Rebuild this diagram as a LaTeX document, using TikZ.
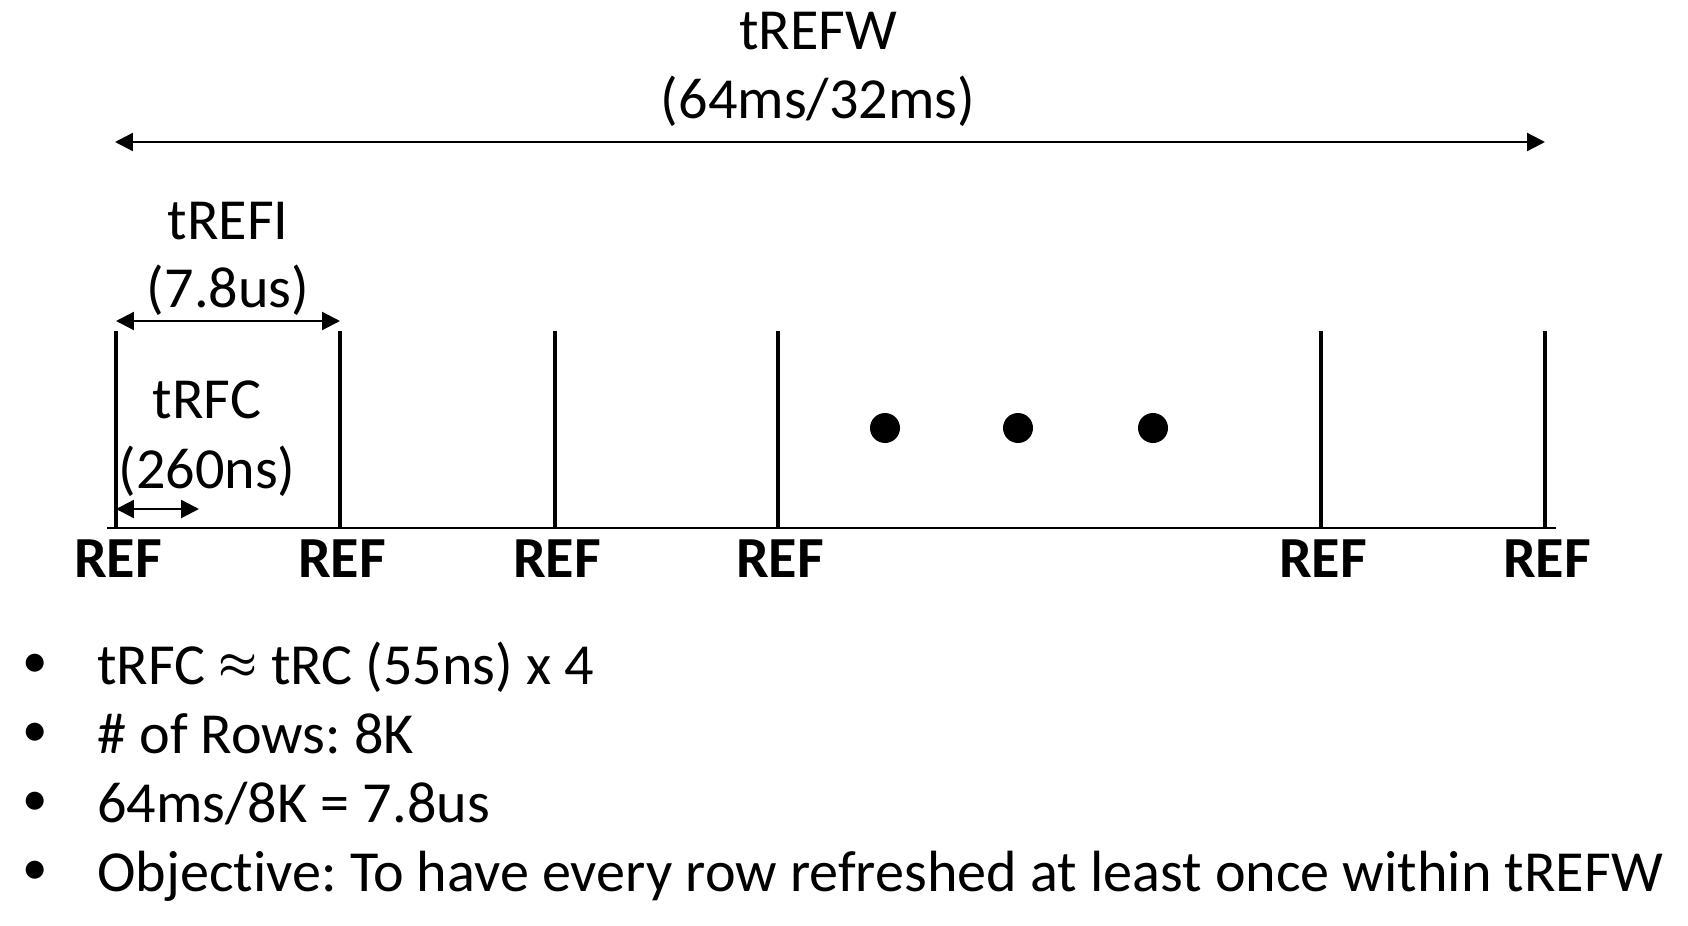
\documentclass[tikz,border=0pt]{standalone}
\usepackage{fontspec}
\setmainfont[Ligatures={NoCommon,NoRequired,NoContextual}]{Carlito}
\usetikzlibrary{arrows.meta,positioning}

\tikzset{
  lbl/.style={inner sep=0pt, anchor=base, font=\fontsize{33.1}{40}\selectfont},
  reflbl/.style={lbl, font=\fontsize{33.1}{40}\selectfont\bfseries},
  item/.style={lbl, anchor=base west},
  dotlbl/.style={lbl, font=\fontsize{29}{40}\selectfont},
  tick/.style={line width=2.3pt},
  axis/.style={line width=1.6pt},
  span/.style={line width=1.3pt, {Triangle[length=0.36cm,width=0.36cm]}-{Triangle[length=0.36cm,width=0.36cm]}},
}

\begin{document}
\frenchspacing
\begin{tikzpicture}[x=0.02cm, y=-0.02cm]
\useasboundingbox (0,0) rectangle (1688,926);

% time axis
\coordinate (ax0) at (107,528);
\coordinate (ax1) at (1556,528);
\draw[axis] (ax0) -- (ax1);

% refresh commands
\foreach \n/\x in {r1/116, r2/340, r3/555, r4/778, r5/1321, r6/1545} {
  \coordinate (\n top) at (\x,331);
  \coordinate (\n) at (\x,528);
  \draw[tick] (\n top) -- (\n);
  \node[reflbl] (\n lbl) at (\x+2,577) {REF};
}

% ...
\foreach \n/\x in {d1/885, d2/1018, d3/1153}
  \fill (\x,428) circle (15) coordinate (\n);

% tREFW
\node[lbl] (trefw) at (818,50) {tREFW};
\node[lbl] (trefw val) at (818,119) {(64ms/32ms)};
\coordinate (w0) at (115,142);
\coordinate (w1) at (1545,142);
\draw[span] (w0) -- (w1);

% tREFI
\node[lbl] (trefi) at (228,239) {tREFI};
\node[lbl] (trefi val) at (228,307) {(7.8us)};
\coordinate (i0) at (116,321);
\coordinate (i1) at (340,321);
\draw[span] (i0) -- (i1);

% tRFC
\node[lbl] (trfc) at (207,418) {tRFC};
\node[lbl] (trfc val) at (207,488) {(260ns)};
\coordinate (c0) at (116,509);
\coordinate (c1) at (199,509);
\draw[span] (c0) -- (c1);

% notes
\foreach \k/\y/\t in {n1/684/{tRFC \raisebox{0.12em}{\boldmath$\approx$} tRC (55ns) x 4},
                      n2/753/{\# of Rows: 8K},
                      n3/822/{64ms/8K = 7.8us},
                      n4/891/{Objective: To have every row refreshed at least once within tREFW}} {
  \node[dotlbl] (\k b) at (35,\y-7) {•};
  \node[item] (\k) at (97,\y) {\t};
}
\end{tikzpicture}
\end{document}
